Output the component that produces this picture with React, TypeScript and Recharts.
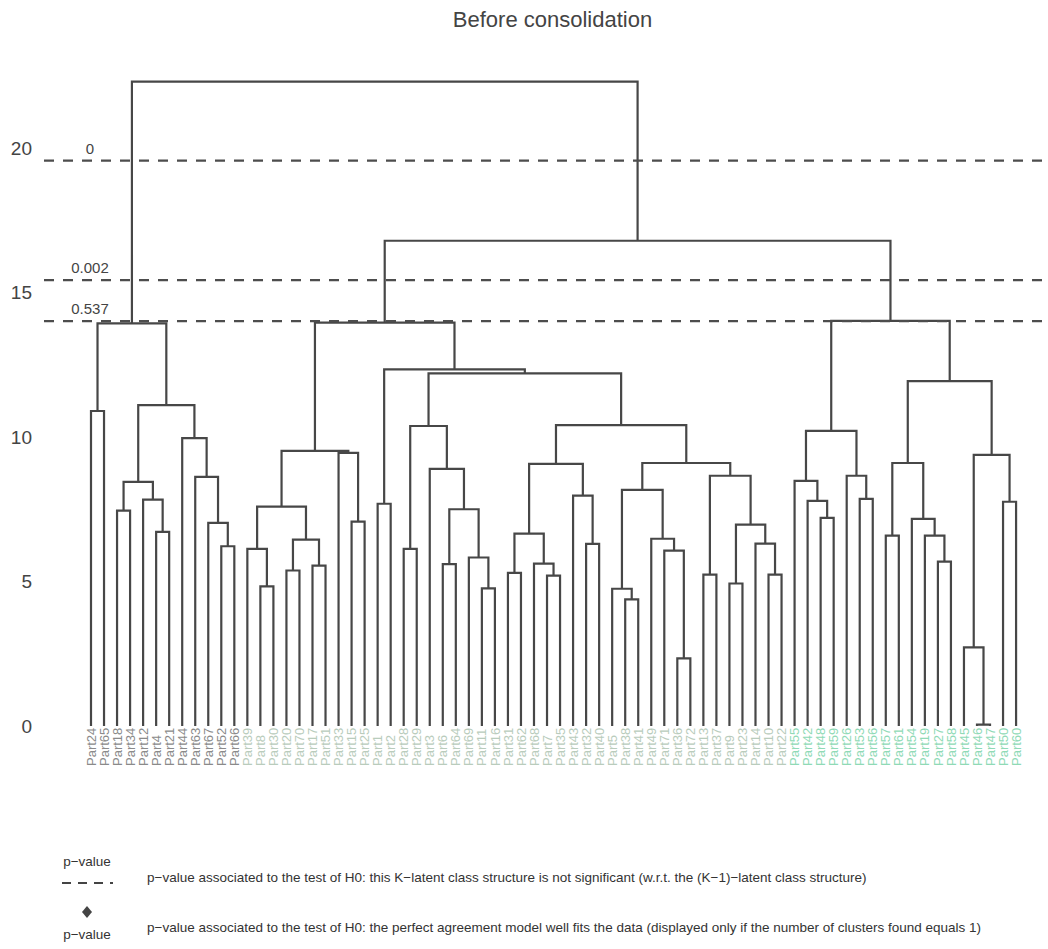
import { ComposedChart, Line, XAxis, YAxis, ReferenceLine } from "recharts";

const FONT = "'Liberation Sans', Arial, Helvetica, sans-serif";

// leaves in plotting order, split by colour group
const groupA = ["Part24", "Part65", "Part18", "Part34", "Part12", "Part4", "Part21", "Part44", "Part63", "Part67", "Part52", "Part66"];
const groupB = [
  "Part39", "Part8", "Part30", "Part20", "Part70", "Part17", "Part51", "Part33", "Part15", "Part25",
  "Part1", "Part2", "Part28", "Part29", "Part3", "Part6", "Part64", "Part69", "Part11", "Part16",
  "Part31", "Part62", "Part68", "Part7", "Part35", "Part43", "Part32", "Part40", "Part5", "Part38",
  "Part41", "Part49", "Part71", "Part36", "Part72", "Part13", "Part37", "Part9", "Part23", "Part14",
  "Part10", "Part22",
];
const groupC = [
  "Part55", "Part42", "Part48", "Part59", "Part26", "Part53", "Part56", "Part57", "Part61", "Part54",
  "Part19", "Part27", "Part58", "Part45", "Part46", "Part47", "Part50", "Part60",
];
const leafLabels = [...groupA, ...groupB, ...groupC];
const groupColors = ["#8a8a8a", "#b9ccbc", "#8fdab6"];

// merge table (hclust style): a string is a leaf, a number is an earlier merge row
const mergeLeft: (string | number)[] = [
  "Part24", "Part18", "Part4", "Part12", 1, "Part52", "Part67", "Part63", "Part44", 4, 0,
  "Part8", "Part39", "Part20", "Part17", 13, 12, "Part15", "Part33", 16, "Part1",
  "Part28", "Part6", "Part11", "Part69", 22, "Part3", 21, "Part31", "Part7", "Part68",
  28, "Part32", "Part43", 31, "Part38", "Part5", "Part36", "Part71", "Part49", 36,
  "Part13", "Part9", "Part10", "Part14", 42, 41, 40, 34, 27, 20, 19,
  "Part48", "Part42", "Part55", "Part53", "Part26", 54, "Part57", "Part27", "Part19", "Part54",
  58, "Part46", "Part45", "Part50", 64, 62, 57, 51, 10,
];
const mergeRight: (string | number)[] = [
  "Part65", "Part34", "Part21", 2, 3, "Part66", 5, 6, 7, 8, 9,
  "Part30", 11, "Part70", "Part51", 14, 15, "Part25", 17, 18, "Part2",
  "Part29", "Part64", "Part16", 23, 24, 25, 26, "Part62", "Part35", 29,
  30, "Part40", 32, 33, "Part41", 35, "Part72", 37, 38, 39,
  "Part37", "Part23", "Part22", 43, 44, 45, 46, 47, 48, 49, 50,
  "Part59", 52, 53, "Part56", 55, 56, "Part61", "Part58", 59, 60,
  61, "Part47", 63, "Part60", 65, 66, 67, 68, 69,
];
const mergeHeight = [
  10.9, 7.45, 6.72, 7.83, 8.45, 6.22, 7.03, 8.62, 9.96, 11.1, 13.93,
  4.83, 6.13, 5.38, 5.55, 6.45, 7.59, 7.07, 9.45, 9.52, 7.69,
  6.13, 5.6, 4.76, 5.83, 7.5, 8.9, 10.38, 5.3, 5.2, 5.62,
  6.66, 6.3, 7.97, 9.07, 4.38, 4.75, 2.34, 6.07, 6.48, 8.17,
  5.24, 4.93, 5.24, 6.31, 6.97, 8.66, 9.1, 10.41, 12.2, 12.34, 13.96,
  7.2, 7.79, 8.48, 7.86, 8.66, 10.21, 6.59, 5.69, 6.59, 7.17,
  9.1, 0.05, 2.72, 7.76, 9.38, 11.93, 14.02, 16.79, 22.3,
];

const cutHeights = [19.56, 15.43, 14.01];
const cutPValues = ["0", "0.002", "0.537"];
const yTicks = [0, 5, 10, 15, 20];

const legendDashText =
  "p\u2212value associated to the test of H0: this K\u2212latent class structure is not significant (w.r.t. the (K\u22121)\u2212latent class structure)";
const legendDiamondText =
  "p\u2212value associated to the test of H0: the perfect agreement model well fits the data (displayed only if the number of clusters found equals 1)";

// x of every merge = midpoint of its two children (leaf index units)
const nodeX: number[] = [];
const childX = (c: string | number) => (typeof c === "string" ? leafLabels.indexOf(c) : nodeX[c]);
const childH = (c: string | number) => (typeof c === "string" ? 0 : mergeHeight[c]);
const segments = mergeHeight.map((h, i) => {
  const l = mergeLeft[i];
  const r = mergeRight[i];
  const xl = childX(l);
  const xr = childX(r);
  nodeX[i] = (xl + xr) / 2;
  return [
    { x: xl, y: childH(l) },
    { x: xl, y: h },
    { x: xr, y: h },
    { x: xr, y: childH(r) },
  ];
});

const LABEL_BASE = 766;

function LeafTick({ x, payload }: { x?: number; payload?: { value: number } }) {
  const i = payload?.value ?? 0;
  const color =
    i < groupA.length ? groupColors[0] : i < groupA.length + groupB.length ? groupColors[1] : groupColors[2];
  return (
    <text
      transform={`translate(${(x ?? 0) + 4.6},${LABEL_BASE}) rotate(-90)`}
      fontSize={13}
      fontFamily={FONT}
      fill={color}
      textAnchor="start"
    >
      {leafLabels[i]}
    </text>
  );
}

function HeightTick({ y, payload }: { y?: number; payload?: { value: number } }) {
  return (
    <text x={32} y={(y ?? 0) + 6.8} textAnchor="end" fontSize={19} fontFamily={FONT} fill="#444">
      {payload?.value}
    </text>
  );
}

function CutLabel({ viewBox, text }: { viewBox?: { x: number; y: number }; text: string }) {
  if (!viewBox) return null;
  return (
    <text x={viewBox.x + 46} y={viewBox.y - 7} textAnchor="middle" fontSize={15} fontFamily={FONT} fill="#444">
      {text}
    </text>
  );
}

export default function App() {
  return (
    <div style={{ position: "absolute", left: 0, top: 0, width: 1048, height: 949, background: "#fff" }}>
      <svg width={1048} height={949} style={{ position: "absolute", left: 0, top: 0 }}>
        <text x={552.5} y={27} textAnchor="middle" fontSize={22} fontFamily={FONT} fill="#444">
          Before consolidation
        </text>
        <text x={87} y={866} textAnchor="middle" fontSize={13.5} fontFamily={FONT} fill="#333">
          p{"\u2212"}value
        </text>
        <line x1={62} x2={113} y1={883} y2={883} stroke="#444" strokeWidth={2} strokeDasharray="9 7" />
        <text x={147} y={882} fontSize={13.5} fontFamily={FONT} fill="#333">
          {legendDashText}
        </text>
        <path d="M87 906 L92 912 L87 918 L82 912 Z" fill="#444" />
        <text x={87} y={939} textAnchor="middle" fontSize={13.5} fontFamily={FONT} fill="#333">
          p{"\u2212"}value
        </text>
        <text x={147} y={932} fontSize={13.5} fontFamily={FONT} fill="#333">
          {legendDiamondText}
        </text>
      </svg>
      <div style={{ position: "absolute", left: 0, top: 0 }}>
        <ComposedChart width={1048} height={949} margin={{ top: 61.3, right: 0, bottom: 163, left: 0 }}>
          <XAxis
            type="number"
            dataKey="x"
            domain={[-3.607, 73.45]}
            allowDataOverflow
            ticks={leafLabels.map((_, i) => i)}
            interval={0}
            tick={<LeafTick />}
            axisLine={false}
            tickLine={false}
            height={60}
          />
          <YAxis
            type="number"
            domain={[0, 23]}
            allowDataOverflow
            ticks={yTicks}
            tick={<HeightTick />}
            axisLine={false}
            tickLine={false}
            width={44}
          />
          {segments.map((d, i) => (
            <Line
              key={i}
              data={d}
              dataKey="y"
              type="linear"
              stroke="#474747"
              strokeWidth={2.2}
              dot={false}
              activeDot={false}
              isAnimationActive={false}
            />
          ))}
          {cutHeights.map((h, i) => (
            <ReferenceLine
              key={"cut" + i}
              y={h}
              stroke="#4d4d4d"
              strokeWidth={2.2}
              strokeDasharray="10 9"
              label={(p: { viewBox?: { x: number; y: number } }) => <CutLabel viewBox={p.viewBox} text={cutPValues[i]} />}
            />
          ))}
        </ComposedChart>
      </div>
    </div>
  );
}
